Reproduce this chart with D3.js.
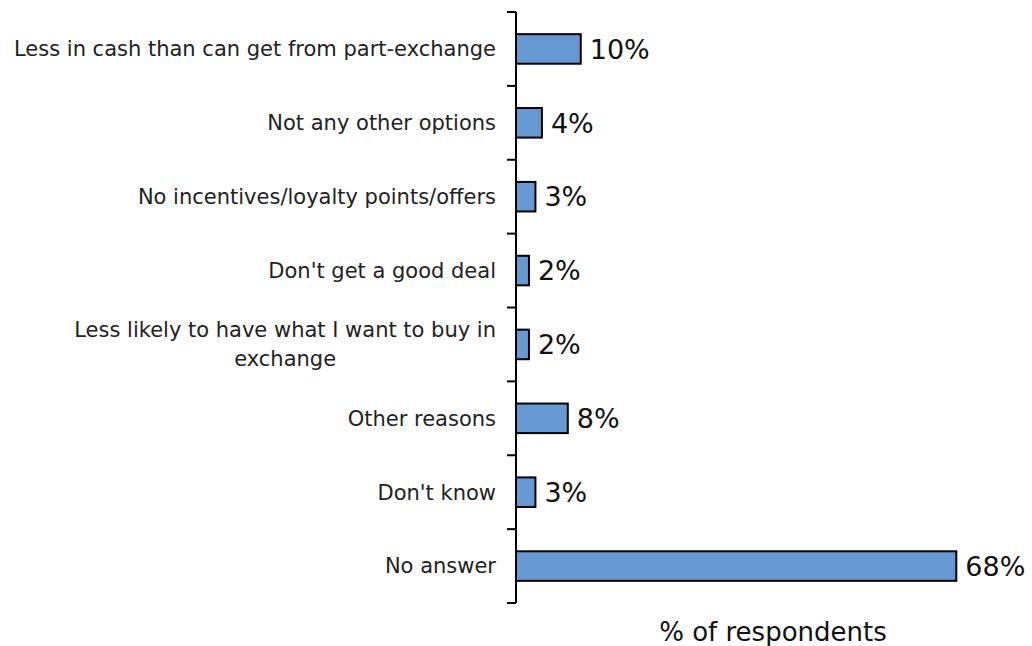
<!DOCTYPE html>
<html>
<head>
<meta charset="utf-8">
<script src="https://cdn.jsdelivr.net/npm/d3@7"></script>
<style>
  html, body { margin: 0; padding: 0; background: #fff; }
  svg { display: block; font-family: "DejaVu Sans", Verdana, sans-serif; }
</style>
</head>
<body>
<svg id="chart" width="1032" height="646"></svg>
<script>
// Reasons given, in display order (top to bottom)
const categories = [
  "Less in cash than can get from part-exchange",
  "Not any other options",
  "No incentives/loyalty points/offers",
  "Don't get a good deal",
  "Less likely to have what I want to buy in exchange",
  "Other reasons",
  "Don't know",
  "No answer"
];
// Share of respondents, percent
const values = [10, 4, 3, 2, 2, 8, 3, 68];
const axisTitle = "% of respondents";

const svg = d3.select("#chart");
const margin = { left: 516, top: 12, bottom: 603 };

const x = d3.scaleLinear().domain([0, 80]).range([margin.left, margin.left + 518]);
const y = d3.scaleBand().domain(categories).range([margin.top, margin.bottom]).paddingInner(0.6).paddingOuter(0.3);
const yBand = d3.scaleBand().domain(categories).range([margin.top, margin.bottom]);

// Bars
svg.append("g").selectAll("rect")
  .data(categories)
  .join("rect")
  .attr("x", x(0))
  .attr("y", d => y(d))
  .attr("width", (d, i) => x(values[i]) - x(0))
  .attr("height", y.bandwidth())
  .attr("fill", "#6699d2")
  .attr("stroke", "#000")
  .attr("stroke-width", 2);

// Category axis: vertical line with ticks at band boundaries
const axisG = svg.append("g");
axisG.append("line")
  .attr("x1", x(0)).attr("x2", x(0))
  .attr("y1", margin.top).attr("y2", margin.bottom)
  .attr("stroke", "#000").attr("stroke-width", 2);
const boundaries = categories.map(c => yBand(c)).concat([margin.bottom]);
axisG.selectAll("line.tick")
  .data(boundaries)
  .join("line")
  .attr("class", "tick")
  .attr("x1", x(0) - 9).attr("x2", x(0))
  .attr("y1", d => d).attr("y2", d => d)
  .attr("stroke", "#000").attr("stroke-width", 2);

// Category labels, wrapped where too long
const labelFont = 21;
const maxLabelWidth = 500;
const labelG = svg.append("g")
  .attr("font-size", labelFont)
  .attr("fill", "#222");

categories.forEach(cat => {
  const cy = yBand(cat) + yBand.bandwidth() / 2;
  const t = labelG.append("text").attr("text-anchor", "middle");
  t.text(cat);
  let lines = [cat];
  if (t.node().getComputedTextLength() > maxLabelWidth) {
    const words = cat.split(" ");
    let line = [];
    lines = [];
    words.forEach(w => {
      line.push(w);
      t.text(line.join(" "));
      if (t.node().getComputedTextLength() > maxLabelWidth && line.length > 1) {
        line.pop();
        lines.push(line.join(" "));
        line = [w];
      }
    });
    lines.push(line.join(" "));
  }
  t.text(null);
  const lh = 29;
  const widths = [];
  lines.forEach(l => { t.text(l); widths.push(t.node().getComputedTextLength()); });
  t.text(null);
  const maxW = d3.max(widths);
  const right = x(0) - 20;
  const cx = right - maxW / 2;
  t.attr("x", cx);
  lines.forEach((l, i) => {
    t.append("tspan")
      .attr("x", cx)
      .attr("y", cy + (i - (lines.length - 1) / 2) * lh)
      .attr("dy", "0.35em")
      .text(l);
  });
});

// Value labels
svg.append("g")
  .attr("font-size", 27)
  .attr("fill", "#111")
  .selectAll("text")
  .data(categories)
  .join("text")
  .attr("x", (d, i) => x(values[i]) + 9)
  .attr("y", d => y(d) + y.bandwidth() / 2)
  .attr("dy", "0.36em")
  .text((d, i) => values[i] + "%");

// Axis title
svg.append("text")
  .attr("x", 773)
  .attr("y", 641)
  .attr("text-anchor", "middle")
  .attr("font-size", 26)
  .attr("fill", "#111")
  .text(axisTitle);
</script>
</body>
</html>
